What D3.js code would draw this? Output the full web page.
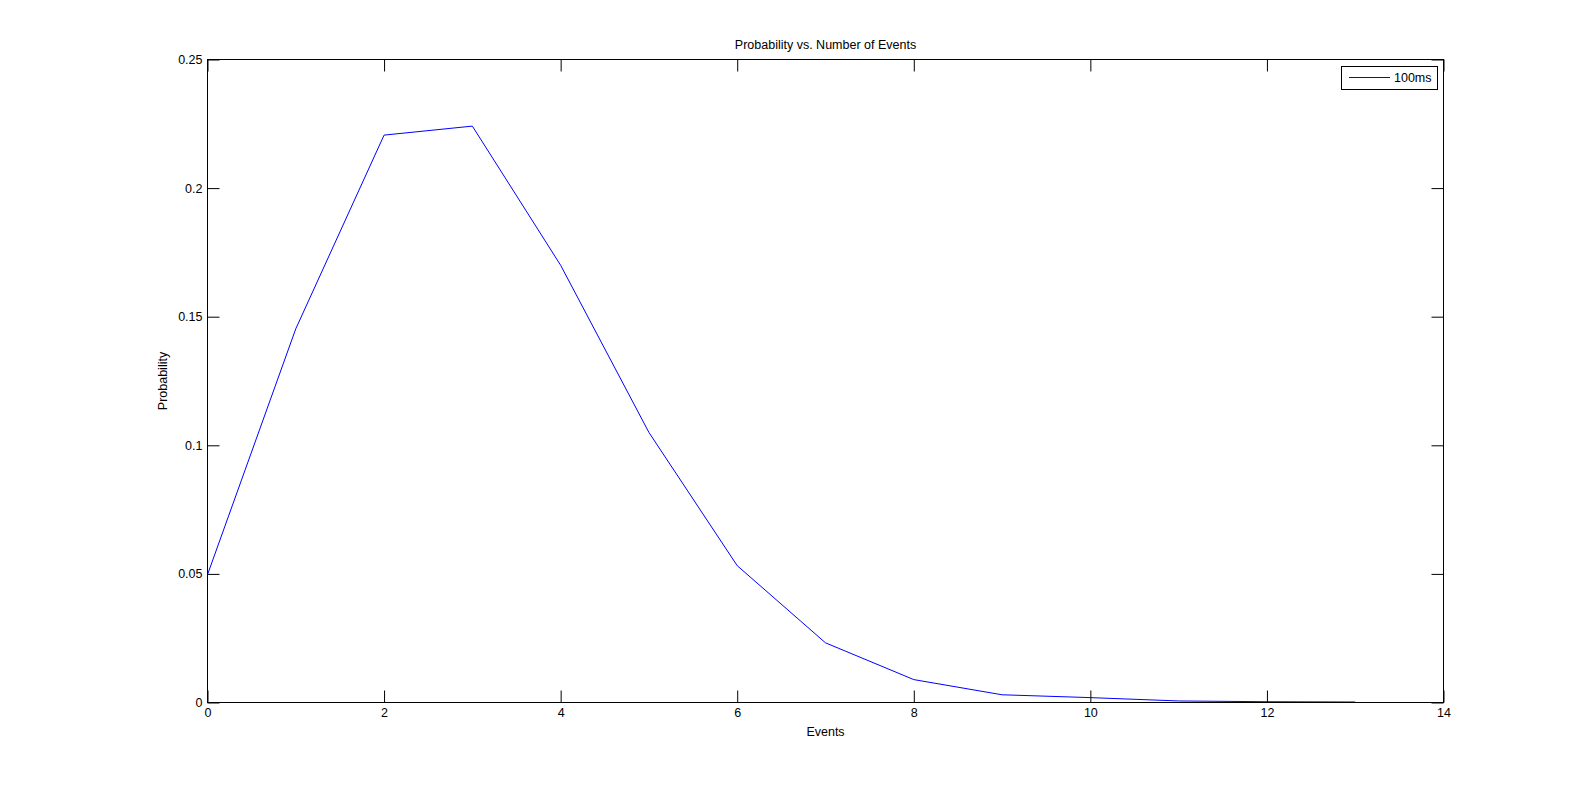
<!DOCTYPE html>
<html>
<head>
<meta charset="utf-8">
<script src="https://cdn.jsdelivr.net/npm/d3@7"></script>
<style>
  html, body { margin: 0; padding: 0; background: #fff; }
  svg { display: block; }
  text { font-family: "Liberation Sans", Arial, Helvetica, sans-serif; fill: #000; }
</style>
</head>
<body>
<svg id="chart" width="1596" height="790"></svg>
<script>
const events = [0, 1, 2, 3, 4, 5, 6, 7, 8, 9, 10, 11, 12, 13];
const probability = [0.0497, 0.1453, 0.2206, 0.2241, 0.170, 0.105, 0.0532, 0.0232, 0.0089, 0.0030, 0.0019, 0.0006, 0.0003, 0.0002];
const xTicks = [0, 2, 4, 6, 8, 10, 12, 14];
const yTicks = [0, 0.05, 0.1, 0.15, 0.2, 0.25];
const yTickLabels = ["0", "0.05", "0.1", "0.15", "0.2", "0.25"];
const seriesName = "100ms";
const titleText = "Probability vs. Number of Events";
const xLabel = "Events";
const yLabel = "Probability";

const svg = d3.select("#chart");
const L = 207.5, R = 1443.5, T = 59.5, B = 702.5;
const x = d3.scaleLinear().domain([0, 14]).range([L, R]);
const y = d3.scaleLinear().domain([0, 0.25]).range([B, T]);
const tickLen = 12;
const fs = "12.5px";

// plot background
svg.append("rect").attr("x", L).attr("y", T).attr("width", R - L).attr("height", B - T)
  .attr("fill", "#fff");

// data line
svg.append("path")
  .datum(events.map((e, i) => [e, probability[i]]))
  .attr("fill", "none")
  .attr("stroke", "#0000ff")
  .attr("stroke-width", 1)
  .attr("d", d3.line().x(d => x(d[0])).y(d => y(d[1])));

// axes (MATLAB style, ticks inward on all four sides)
const xAxisB = d3.axisBottom(x).tickValues(xTicks).tickSize(-tickLen).tickPadding(6).tickFormat(d3.format("d"));
const xAxisT = d3.axisTop(x).tickValues(xTicks).tickSize(-tickLen).tickFormat("");
const yAxisL = d3.axisLeft(y).tickValues(yTicks).tickSize(-tickLen).tickPadding(5).tickFormat((d, i) => yTickLabels[i]);
const yAxisR = d3.axisRight(y).tickValues(yTicks).tickSize(-tickLen).tickFormat("");

function style(g) {
  g.selectAll("path.domain").attr("stroke", "#000").attr("stroke-width", 1);
  g.selectAll(".tick line").attr("stroke", "#000").attr("stroke-width", 1);
  g.selectAll(".tick text").style("font-size", fs).attr("fill", "#000")
    .style("font-family", '"Liberation Sans", Arial, Helvetica, sans-serif');
  g.selectAll("path.domain").each(function() {});
}

const gB = svg.append("g").attr("transform", `translate(0,${B})`).call(xAxisB).call(style);
const gT = svg.append("g").attr("transform", `translate(0,${T})`).call(xAxisT).call(style);
const gL = svg.append("g").attr("transform", `translate(${L},0)`).call(yAxisL).call(style);
const gR = svg.append("g").attr("transform", `translate(${R},0)`).call(yAxisR).call(style);
// remove outer tick extensions of domain paths
[gB, gT, gL, gR].forEach(g => g.select("path.domain").remove());
svg.append("rect").attr("x", L).attr("y", T).attr("width", R - L).attr("height", B - T)
  .attr("fill", "none").attr("stroke", "#000").attr("stroke-width", 1);

// title and labels
svg.append("text").attr("x", (L + R) / 2).attr("y", 49).attr("text-anchor", "middle")
  .style("font-size", fs).text(titleText);
svg.append("text").attr("x", (L + R) / 2).attr("y", 736).attr("text-anchor", "middle")
  .style("font-size", fs).text(xLabel);
svg.append("text").attr("transform", `translate(167,${(T + B) / 2}) rotate(-90)`)
  .attr("text-anchor", "middle").style("font-size", fs).text(yLabel);

// legend
const lg = svg.append("g");
lg.append("rect").attr("x", 1341.5).attr("y", 66.5).attr("width", 96).attr("height", 23)
  .attr("fill", "#fff").attr("stroke", "#000").attr("stroke-width", 1);
lg.append("line").attr("x1", 1349).attr("x2", 1390).attr("y1", 77.5).attr("y2", 77.5)
  .attr("stroke", "#0000ff").attr("stroke-width", 1);
lg.append("text").attr("x", 1394).attr("y", 82).style("font-size", fs).text(seriesName);
</script>
</body>
</html>
